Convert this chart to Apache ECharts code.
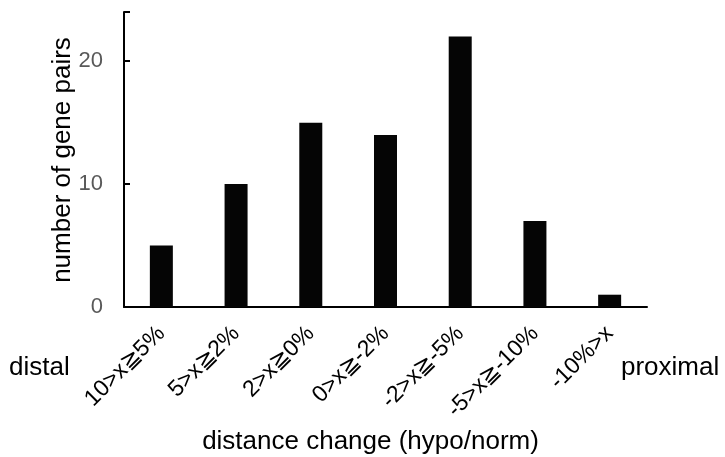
<!DOCTYPE html>
<head>
    <meta charset="utf-8">
    <script type="text/javascript" src="https://cdn.jsdelivr.net/npm/echarts@6/dist/echarts.min.js"></script>
</head>
<body style="margin: 0; background: #fff">
<div id="container" style="width: 725px; height: 457px"></div>
<script type="text/javascript">
    var categories = ['10>x≧5%', '5>x≧2%', '2>x≧0%', '0>x≧-2%', '-2>x≧-5%', '-5>x≧-10%', '-10%>x'];
    var pairCounts = [5, 10, 15, 14, 22, 7, 1];
    var yTicks = [0, 10, 20];

    var myChart = echarts.init(document.getElementById('container'));
    var font = 'Liberation Sans, Arial, sans-serif';

    var option = {
        animation: false,
        grid: { left: 124, right: 78, top: 12, bottom: 150, outerBoundsMode: 'none' },
        xAxis: {
            type: 'category',
            data: categories,
            axisLine: { lineStyle: { color: '#000', width: 2 } },
            axisTick: { show: false },
            axisLabel: {
                rotate: 45,
                interval: 0,
                margin: 23,
                color: '#000',
                fontSize: 23,
                fontFamily: font
            },
            name: 'distance change (hypo/norm)',
            nameLocation: 'middle',
            nameGap: 121,
            nameTextStyle: { color: '#000', fontSize: 26, fontFamily: font, padding: [0, 30, 0, 0] }
        },
        yAxis: {
            type: 'value',
            min: 0,
            max: 24,
            interval: 10,
            splitLine: { show: false },
            axisLine: { show: true, lineStyle: { color: '#000', width: 2 } },
            axisTick: { show: true, inside: true, length: 6, lineStyle: { color: '#000', width: 2 } },
            axisLabel: {
                margin: 21,
                color: '#595959',
                fontSize: 22,
                fontFamily: font,
                formatter: function (v) {
                    return yTicks.indexOf(v) >= 0 ? String(v) : '';
                }
            }
        },
        graphic: [
            {
                type: 'text', x: 63, y: 160, rotation: Math.PI / 2,
                style: {
                    text: 'number of gene pairs', fill: '#000', font: '26px ' + font,
                    align: 'center', verticalAlign: 'middle'
                }
            },
            {
                type: 'text', x: 9, y: 368,
                style: { text: 'distal', fill: '#000', font: '26px ' + font, verticalAlign: 'middle' }
            },
            {
                type: 'text', x: 621, y: 368,
                style: { text: 'proximal', fill: '#000', font: '26px ' + font, verticalAlign: 'middle' }
            }
        ],
        series: [{
            type: 'bar',
            data: pairCounts,
            barWidth: 23,
            itemStyle: { color: '#050505' }
        }]
    };
    myChart.setOption(option);
</script>
</body>
</html>
